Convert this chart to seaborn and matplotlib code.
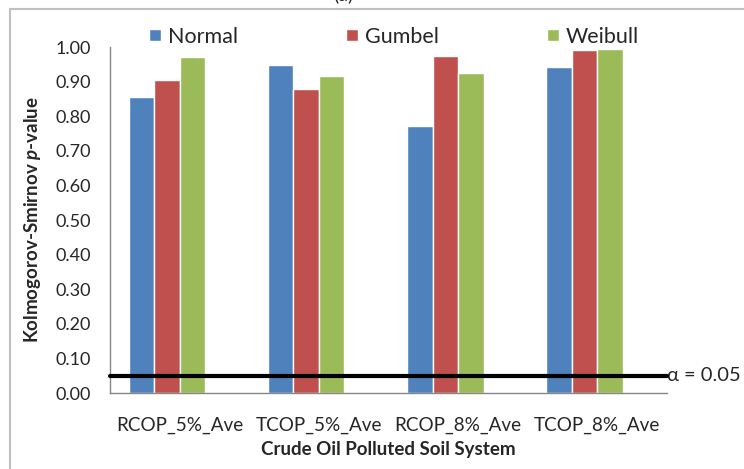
import matplotlib
matplotlib.use("Agg")
import numpy as np
import pandas as pd
import matplotlib.pyplot as plt
import seaborn as sns
from matplotlib.patches import Rectangle
from matplotlib.ticker import FormatStrFormatter

# values
systems = ["RCOP_5%_Ave", "TCOP_5%_Ave", "RCOP_8%_Ave", "TCOP_8%_Ave"]
distributions = ["Normal", "Gumbel", "Weibull"]
normal_p = [0.855, 0.947, 0.771, 0.943]
gumbel_p = [0.904, 0.880, 0.975, 0.991]
weibull_p = [0.972, 0.917, 0.926, 0.994]
alpha = 0.05
colors = ["#4F81BD", "#C0504D", "#9BBB59"]

df = pd.DataFrame({
    "system": systems * 3,
    "dist": [d for d in distributions for _ in systems],
    "p": normal_p + gumbel_p + weibull_p,
})

# the original chart keeps an empty 4th slot per group (the alpha series),
# so the three bars sit left of the category centre
hue_order = distributions + ["alpha"]
palette = dict(zip(distributions, colors))
palette["alpha"] = "white"

sns.set_style("white")
plt.rcParams["font.family"] = ["Lato", "DejaVu Sans"]
plt.rcParams["mathtext.fontset"] = "custom"
plt.rcParams["mathtext.it"] = "Lato:italic:bold"
plt.rcParams["mathtext.rm"] = "Lato:bold"

fig = plt.figure(figsize=(7.44, 4.69), dpi=100)
ax = fig.add_axes([110/744, 1 - 393/469, (667 - 110)/744, (393 - 47)/469])

sns.barplot(data=df, x="system", y="p", hue="dist", hue_order=hue_order,
            palette=palette, width=0.734, saturation=1, ax=ax)

ax.set_ylim(0, 1.0)
ax.set_xlim(-0.5, 3.5)
ax.set_yticks(np.arange(0, 1.01, 0.1))
ax.yaxis.set_major_formatter(FormatStrFormatter("%.2f"))
ax.set_xticks([-0.5, 0.5, 1.5, 2.5, 3.5], minor=True)
ax.tick_params(axis="x", which="major", length=0, pad=17, labelsize=13.6)
ax.tick_params(axis="x", which="minor", length=5, width=1, color="#868686", direction="out")
ax.tick_params(axis="y", length=5, width=1, color="#868686", direction="out", pad=9, labelsize=13)
for s in ["top", "right"]:
    ax.spines[s].set_visible(False)
for s in ["left", "bottom"]:
    ax.spines[s].set_color("#868686")
    ax.spines[s].set_linewidth(1)

ax.set_xlabel("Crude Oil Polluted Soil System", fontsize=13.5, fontweight="bold", labelpad=5)
ax.set_ylabel("Kolmogorov-Smirnov $p$-value", fontsize=13.5, fontweight="bold", labelpad=9)

# significance level
ax.axhline(alpha, xmin=0, xmax=1.0, color="black", lw=3, zorder=5, clip_on=False)
ax.text(1.0, alpha, "α = 0.05", transform=ax.get_yaxis_transform(),
        va="center", ha="left", fontsize=14.5)

handles, labels = ax.get_legend_handles_labels()
keep = [i for i, l in enumerate(labels) if l in distributions]
ax.legend([handles[i] for i in keep], [labels[i] for i in keep],
          ncol=3, loc="center", bbox_to_anchor=(0.51, 1.03), frameon=False,
          handlelength=0.55, handleheight=0.55, handletextpad=0.35,
          columnspacing=5.0, fontsize=15.5, borderaxespad=0)

# outer frame and clipped panel tag
fig.add_artist(Rectangle((10/744, -0.1), 1.0, 1 - 9/469 + 0.1, transform=fig.transFigure,
                         fill=False, edgecolor="#c0c0c0", lw=1.5))
fig.text(343/744, 1 + 6/469, "(a)", ha="center", va="center", fontsize=14)

fig.savefig("out.png", dpi=100)
